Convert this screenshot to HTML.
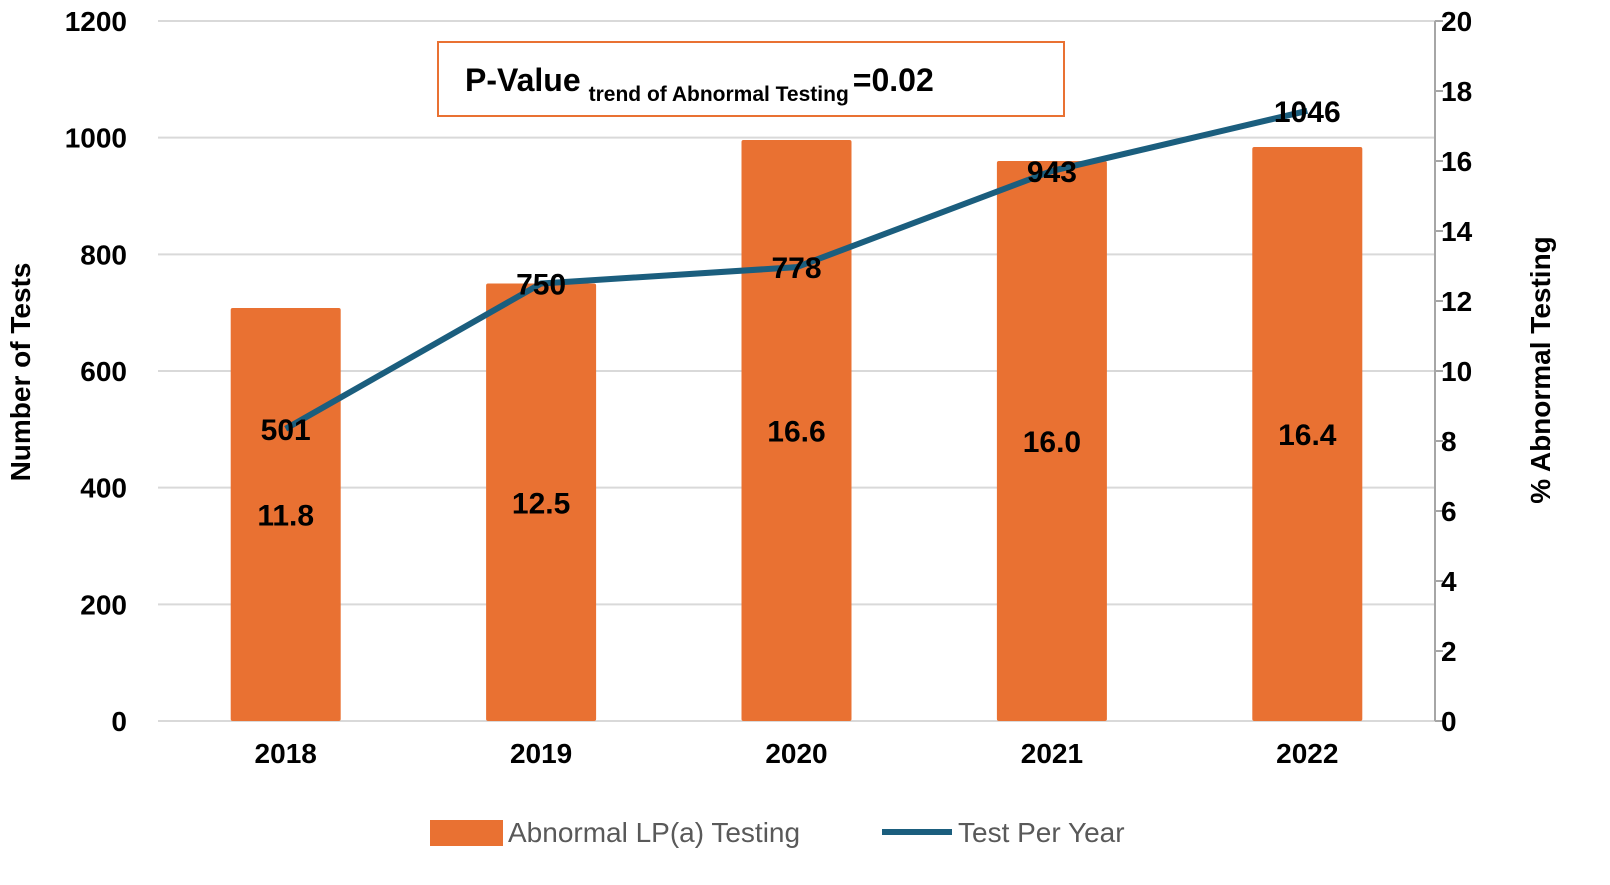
<!DOCTYPE html>
<html><head><meta charset="utf-8"><style>
body{margin:0;background:#fff;}
svg text{font-family:"Liberation Sans",Arial,sans-serif;}
</style></head><body>
<svg id="chart" width="1610" height="880" xmlns="http://www.w3.org/2000/svg"></svg>
<script>
const categories=["2018","2019","2020","2021","2022"];
const abnormalPct=[11.8,12.5,16.6,16.0,16.4];
const testsPerYear=[501,750,778,943,1046];
const leftTicks=[0,200,400,600,800,1000,1200];
const rightTicks=[0,2,4,6,8,10,12,14,16,18,20];

const svg=document.getElementById('chart');
const NS="http://www.w3.org/2000/svg";
const X0=158,X1=1435,Y0=721,Y1=21;
const band=(X1-X0)/categories.length;
const xc=i=>X0+band*(i+0.5);
const yL=v=>Y0-(v/1200)*(Y0-Y1);
const yR=v=>Y0-(v/20)*(Y0-Y1);
function mk(tag,attrs,parent){const e=document.createElementNS(NS,tag);for(const k in attrs)e.setAttribute(k,attrs[k]);(parent||svg).appendChild(e);return e;}

leftTicks.forEach(t=>{
  const g=mk('line',{x1:X0,x2:X1,y1:yL(t),y2:yL(t),stroke:'#d9d9d9','stroke-width':2});
  
  
  const tx=mk('text',{x:127,y:yL(t)+10,'text-anchor':'end','font-size':28,'font-weight':'bold',fill:'#000'});
  tx.textContent=t;
  
  
});
const ax=mk('line',{x1:X1,x2:X1,y1:Y1,y2:Y0,stroke:'#a6a6a6','stroke-width':2});


rightTicks.forEach(t=>{
  const tk=mk('line',{x1:X1,x2:X1+8,y1:yR(t),y2:yR(t),stroke:'#a6a6a6','stroke-width':2});
  
  
  const tx=mk('text',{x:1441,y:yR(t)+10,'font-size':28,'font-weight':'bold',fill:'#000'});
  tx.textContent=t;
  
  
});
categories.forEach((c,i)=>{
  const h=Y0-yR(abnormalPct[i]);
  const b=mk('rect',{x:xc(i)-55,y:yR(abnormalPct[i]),width:110,height:h,fill:'#E97132',rx:2});
  
  
  const tx=mk('text',{x:xc(i),y:763,'text-anchor':'middle','font-size':28,'font-weight':'bold'});
  tx.textContent=c;
  
  
});
const pts=testsPerYear.map((v,i)=>xc(i)+','+yL(v)).join(' ');
const ln=mk('polyline',{points:pts,fill:'none',stroke:'#1B5E7E','stroke-width':6,'stroke-linejoin':'round'});


categories.forEach((c,i)=>{
  const b=mk('text',{x:xc(i),y:(yR(abnormalPct[i])+Y0)/2+11,'text-anchor':'middle','font-size':30,'font-weight':'bold'});
  b.textContent=abnormalPct[i].toFixed(1);
  
  
  const l=mk('text',{x:xc(i),y:yL(testsPerYear[i])+11,'text-anchor':'middle','font-size':30,'font-weight':'bold'});
  l.textContent=testsPerYear[i];
  
  
});
</script>
<svg style="position:absolute;left:0;top:0" width="1610" height="880" xmlns="http://www.w3.org/2000/svg">
<g>
<rect x="438" y="42" width="626" height="74" fill="#fff" stroke="#E97132" stroke-width="2"/>
<text x="465" y="91" font-size="32" font-weight="bold" font-family="Liberation Sans,sans-serif">P-Value<tspan font-size="21" dx="8" dy="10">trend of Abnormal Testing</tspan><tspan font-size="32" dx="4" dy="-10">=0.02</tspan></text>
</g>
<text transform="translate(30,372) rotate(-90)" text-anchor="middle" font-size="28" font-weight="bold" font-family="Liberation Sans,sans-serif">Number of Tests</text>
<text transform="translate(1550,370) rotate(-90)" text-anchor="middle" font-size="28" font-weight="bold" font-family="Liberation Sans,sans-serif">% Abnormal Testing</text>
<g>
<rect x="430" y="820" width="73" height="26" fill="#E97132"/>
<text x="508" y="842" font-size="28" fill="#595959" font-family="Liberation Sans,sans-serif">Abnormal LP(a) Testing</text>
</g>
<g>
<line x1="882" y1="832" x2="952" y2="832" stroke="#1B5E7E" stroke-width="6"/>
<text x="958" y="842" font-size="28" fill="#595959" font-family="Liberation Sans,sans-serif">Test Per Year</text>
</g>
</svg>
</body></html>
